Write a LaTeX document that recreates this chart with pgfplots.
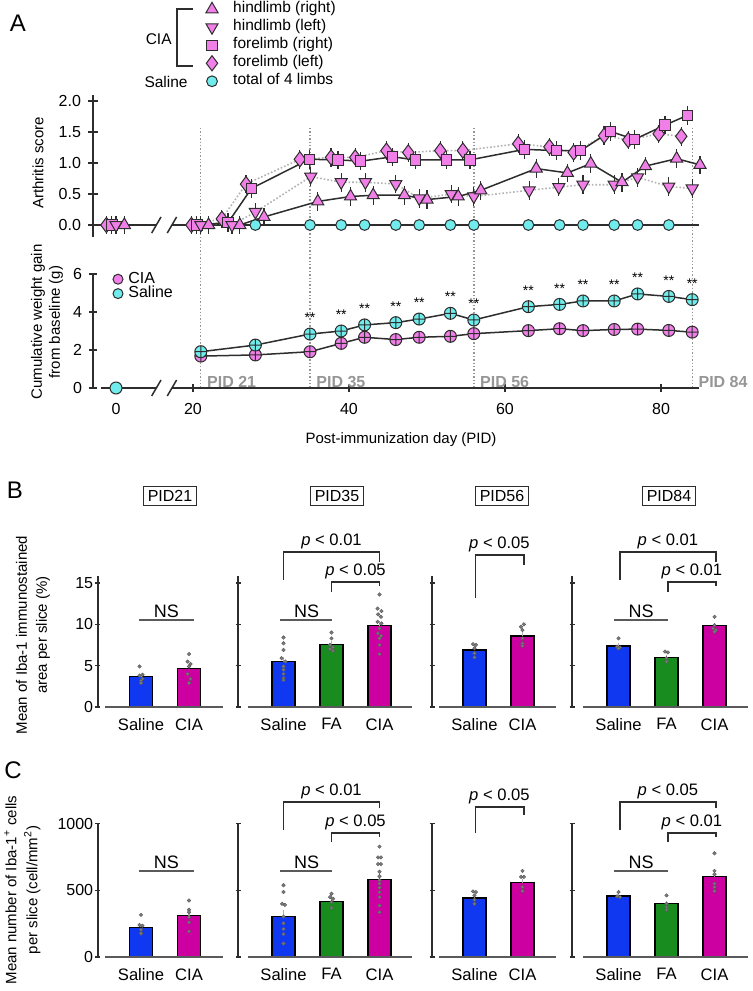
\documentclass[border=0pt]{standalone}
\usepackage{pgfplots}
\pgfplotsset{compat=1.18}
\usepackage{fontspec}
\setmainfont{Liberation Sans}
\definecolor{pinkm}{RGB}{240,128,232}
\definecolor{cyanm}{RGB}{112,236,236}
\definecolor{salblue}{RGB}{16,56,240}
\definecolor{fagreen}{RGB}{24,140,30}
\definecolor{ciamag}{RGB}{204,0,160}
\definecolor{axc}{RGB}{45,45,45}
\definecolor{pidgray}{RGB}{150,150,150}
\definecolor{dotc}{RGB}{125,125,125}
\definecolor{xaxc}{RGB}{90,90,90}
\newcommand{\fs}[1]{\fontsize{#1}{#1}\selectfont}
\pgfplotsset{
  every axis/.append style={
    scale only axis, clip=false,
    /pgf/number format/assume math mode=true,
    tick label style={font=\fs{8}},
    major tick style={axc, line width=0.75pt},
    tick align=outside,
  },
  errA/.style={error bars/.cd, y dir=both, y fixed=0.15, error mark=none, error bar style={axc, line width=0.6pt}},
  barpanel/.style={
    axis y line=left, axis x line=bottom,
    axis line style={axc, line width=0.75pt, -},
    x axis line style={draw=none},
    xtick style={draw=none},
    major tick length=2.5pt,
    yticklabel style={inner sep=1pt},
    xticklabel style={yshift=-1pt, font=\fs{8.3}},
    scaled y ticks=false,
    ymin=0,
  },
  bpanel/.style={barpanel, ymax=15.8, height=65.35pt, ytick={0,5,10,15}},
  cpanel/.style={barpanel, ymax=1000, height=66.67pt, ytick={0,500,1000}},
  dots/.style={only marks, mark=*, mark size=0.9pt, mark options={fill=dotc, draw=dotc!70!black, line width=0.2pt}},
}
\newcommand{\bbar}[4]{\addplot[ybar, bar width=11.5pt, bar shift=0pt, fill=#1, draw=black, line width=0.6pt,
  error bars/.cd, y dir=plus, y explicit, error mark=none, error bar style={gray!60, line width=0.9pt}]
  coordinates {(#2,#3) +- (0,#4)};}
\newcommand{\brk}[7]{\draw[axc, line width=0.7pt] (axis cs:#1,#2) -- (axis cs:#1,#3) -- (axis cs:#4,#3) -- (axis cs:#4,#5);
  \node[anchor=south, font=\fs{8.3}, inner sep=1.2pt] at (axis cs:#6,#3) {#7};}
\newcommand{\ns}[4]{\draw[xaxc, line width=1pt] (axis cs:#1,#3) -- (axis cs:#2,#3);
  \node[anchor=south, font=\fs{9}, inner sep=1.2pt] at (axis cs:#4,#3) {NS};}
\newcommand{\pl}[1]{\textit{p} < #1}
\begin{document}
\begin{tikzpicture}
\useasboundingbox (0,0) rectangle (376pt,-495.5pt);

% ---------------- Panel A top: arthritis score ----------------
\begin{axis}[
  at={(46.5pt,-118.7pt)}, anchor=south west,
  width=307.4pt, height=71.3pt,
  xmin=7.18, xmax=86, ymin=-0.2, ymax=2.1,
  axis y line=left, axis x line=none,
  axis line style={axc, line width=0.75pt, -},
  ytick={0,0.5,1,1.5,2}, yticklabels={0.0,0.5,1.0,1.5,2.0},
  major tick length=5pt,
  legend style={draw=none, fill=none, inner sep=0pt, outer sep=0pt,
    at={(axis description cs:0.1773,1.663)}, anchor=north west,
    font=\fs{7.75}, row sep=0pt,
    nodes={inner sep=0.6pt, text height=5.6pt, text depth=2.2pt}},
  legend cell align=left,
  legend image code/.code={\path[draw=none, fill=none] (0pt,0pt) -- (15pt,0pt); \draw[#1] plot coordinates {(5pt,0pt)};},
]
% PID dotted lines
\foreach \d in {21,35,56,84}{
  \edef\tmp{\noexpand\draw[pidgray, densely dotted, line width=0.7pt] (axis cs:\d,1.565) -- (axis cs:\d,-2.63);}\tmp
}
% zero line with break
\draw[axc, line width=0.75pt] (axis cs:7.4,0) -- (axis cs:15.3,0);
\draw[axc, line width=0.75pt] (axis cs:17.3,0) -- (axis cs:84.9,0);
\draw[axc, line width=0.75pt] (axis cs:14.7,-0.13) -- (axis cs:15.9,0.13);
\draw[axc, line width=0.75pt] (axis cs:16.7,-0.13) -- (axis cs:17.9,0.13);
% series lines
\addplot[forget plot, gray!60, densely dotted, line width=0.8pt] coordinates {
(19.8,0) (23.7,0.10) (26.8,0.66) (33.7,1.06) (37.7,1.09) (40.8,1.09) (44.8,1.20) (47.6,1.17) (51.7,1.20) (54.6,1.20) (61.7,1.31) (65.7,1.26) (68.8,1.17) (72.7,1.44) (75.8,1.37) (79.7,1.47) (82.6,1.43)};
\addplot[forget plot, gray!60, densely dotted, line width=0.8pt] coordinates {
(21,0) (25,0) (28,0.21) (35.1,0.78) (39,0.69) (42.1,0.69) (46,0.66) (49,0.43) (53.1,0.50) (56,0.46) (63.1,0.56) (66.9,0.61) (70,0.65) (74,0.65) (77,0.77) (81,0.62) (84,0.59)};
\addplot[forget plot, axc, line width=0.75pt] coordinates {
(20.5,0) (24.5,0.04) (27.5,0.59) (34.9,1.06) (38.6,1.05) (41.5,1.03) (45.6,1.10) (48.5,1.05) (52.5,1.05) (55.5,1.05) (62.5,1.22) (66.6,1.20) (69.7,1.20) (73.5,1.51) (76.6,1.38) (80.5,1.61) (83.4,1.77)};
\addplot[forget plot, axc, line width=0.75pt] coordinates {
(22,0) (26,0) (29.1,0.13) (36,0.38) (40.2,0.46) (43.1,0.48) (47.1,0.48) (50,0.41) (54,0.46) (56.9,0.56) (64,0.91) (68,0.84) (71,0.99) (75,0.69) (78,0.95) (82,1.07) (85,0.97)};
% marks
\addplot[forget plot, only marks, mark=diamond*, mark size=3.8pt, mark options={fill=pinkm, draw=axc, line width=0.5pt}, errA] coordinates {
(8.9,0) (19.8,0) (23.7,0.10) (26.8,0.66) (33.7,1.06) (37.7,1.09) (40.8,1.09) (44.8,1.20) (47.6,1.17) (51.7,1.20) (54.6,1.20) (61.7,1.31) (65.7,1.26) (68.8,1.17) (72.7,1.44) (75.8,1.37) (79.7,1.47) (82.6,1.43)};
\addplot[forget plot, only marks, mark=square*, mark size=2.6pt, mark options={fill=pinkm, draw=axc, line width=0.5pt}, errA] coordinates {
(9.6,0) (20.5,0) (24.5,0.04) (27.5,0.59) (34.9,1.06) (38.6,1.05) (41.5,1.03) (45.6,1.10) (48.5,1.05) (52.5,1.05) (55.5,1.05) (62.5,1.22) (66.6,1.20) (69.7,1.20) (73.5,1.51) (76.6,1.38) (80.5,1.61) (83.4,1.77)};
\addplot[forget plot, only marks, mark=triangle*, mark size=3.5pt, mark options={rotate=180, fill=pinkm, draw=axc, line width=0.5pt}, errA] coordinates {
(10.13,0) (21,0) (25,0) (28,0.21) (35.1,0.78) (39,0.69) (42.1,0.69) (46,0.66) (49,0.43) (53.1,0.50) (56,0.46) (63.1,0.56) (66.9,0.61) (70,0.65) (74,0.65) (77,0.77) (81,0.62) (84,0.59)};
\addplot[forget plot, only marks, mark=triangle*, mark size=3.5pt, mark options={fill=pinkm, draw=axc, line width=0.5pt}, errA] coordinates {
(11.2,0) (22,0) (26,0) (29.1,0.13) (36,0.38) (40.2,0.46) (43.1,0.48) (47.1,0.48) (50,0.41) (54,0.46) (56.9,0.56) (64,0.91) (68,0.84) (71,0.99) (75,0.69) (78,0.95) (82,1.07) (85,0.97)};
\addplot[forget plot, only marks, mark=*, mark size=2.7pt, mark options={fill=cyanm, draw=axc, line width=0.5pt}] coordinates {
(28,0) (35,0) (39,0) (42,0) (46,0) (49,0) (53,0) (56,0) (63,0) (67,0) (70,0) (74,0) (77,0) (81,0)};
% legend
\addlegendimage{only marks, mark=triangle*, mark size=3.5pt, mark options={fill=pinkm, draw=axc, line width=0.5pt}}
\addlegendentry{hindlimb (right)}
\addlegendimage{only marks, mark=triangle*, mark size=3.5pt, mark options={rotate=180, fill=pinkm, draw=axc, line width=0.5pt}}
\addlegendentry{hindlimb (left)}
\addlegendimage{only marks, mark=square*, mark size=2.6pt, mark options={fill=pinkm, draw=axc, line width=0.5pt}}
\addlegendentry{forelimb (right)}
\addlegendimage{only marks, mark=diamond*, mark size=3.8pt, mark options={fill=pinkm, draw=axc, line width=0.5pt}}
\addlegendentry{forelimb (left)}
\addlegendimage{only marks, mark=*, mark size=2.7pt, mark options={fill=cyanm, draw=axc, line width=0.5pt}}
\addlegendentry{total of 4 limbs}
\end{axis}

% ---------------- Panel A bottom: weight gain ----------------
\begin{axis}[
  at={(46.5pt,-194pt)}, anchor=south west,
  width=307.4pt, height=57pt,
  xmin=7.18, xmax=86, ymin=0, ymax=6,
  axis y line=left, axis x line=bottom,
  axis line style={axc, line width=0.75pt, -},
  x axis line style={draw=none},
  xtick={10.13,20,40,60,80}, xticklabels={0,20,40,60,80},
  ytick={0,2,4,6},
  major tick length=4pt,
  xticklabel style={yshift=-2pt},
  legend style={draw=none, fill=none, inner sep=0pt, outer sep=0pt,
    at={(axis description cs:0.0244,1.0175)}, anchor=north west,
    font=\fs{8}, row sep=0pt,
    nodes={inner sep=0.2pt, text height=5.3pt, text depth=1.5pt}},
  legend cell align=left,
  legend image code/.code={\path[draw=none, fill=none] (0pt,0pt) -- (10pt,0pt); \draw[#1] plot coordinates {(5pt,0pt)};},
]
\draw[axc, line width=0.75pt] (axis cs:8.2,0) -- (axis cs:15.3,0);
\draw[axc, line width=0.75pt] (axis cs:17.3,0) -- (axis cs:84.9,0);
\draw[axc, line width=0.75pt] (axis cs:14.7,-0.42) -- (axis cs:15.9,0.42);
\draw[axc, line width=0.75pt] (axis cs:16.7,-0.42) -- (axis cs:17.9,0.42);
\foreach \d/\t in {21/PID 21,35/PID 35,56/PID 56,84/PID 84}{
  \edef\tmp{\noexpand\node[anchor=west, text=pidgray, font=\noexpand\bfseries\noexpand\fs{8}, inner sep=0pt, xshift=3pt] at (axis cs:\d,0.32) {\t};}\tmp
}
\addplot[forget plot, axc, line width=0.75pt, mark=oplus*, mark size=3pt, mark options={fill=pinkm, draw=axc, line width=0.5pt},
  error bars/.cd, y dir=both, y fixed=0.25, error mark=none, error bar style={axc, line width=0.5pt}] coordinates {
(21,1.68) (28,1.74) (35,1.91) (39,2.35) (42,2.67) (46,2.55) (49,2.67) (53,2.72) (56,2.86) (63,3.02) (67,3.12) (70,3.02) (74,3.08) (77,3.10) (81,3.03) (84,2.94)};
\addplot[forget plot, axc, line width=0.75pt, mark=oplus*, mark size=3pt, mark options={fill=cyanm, draw=axc, line width=0.5pt},
  error bars/.cd, y dir=both, y fixed=0.25, error mark=none, error bar style={axc, line width=0.5pt}] coordinates {
(21,1.91) (28,2.26) (35,2.84) (39,3.00) (42,3.32) (46,3.44) (49,3.63) (53,3.93) (56,3.58) (63,4.28) (67,4.40) (70,4.58) (74,4.58) (77,4.95) (81,4.82) (84,4.65)};
\addplot[forget plot, only marks, mark=*, mark size=3pt, mark options={fill=cyanm, draw=axc, line width=0.5pt}] coordinates {(10.13,0)};
\foreach \d/\v in {35/2.84,39/3.00,42/3.32,46/3.44,49/3.63,53/3.93,56/3.58,63/4.28,67/4.40,70/4.58,74/4.58,77/4.95,81/4.82,84/4.65}{
  \edef\tmp{\noexpand\node[font=\noexpand\fs{7}, inner sep=0pt] at (axis cs:\d,\v+0.85) {**};}\tmp
}
\addlegendimage{only marks, mark=*, mark size=2.5pt, mark options={fill=pinkm, draw=axc, line width=0.5pt}}
\addlegendentry{CIA}
\addlegendimage{only marks, mark=*, mark size=2.5pt, mark options={fill=cyanm, draw=axc, line width=0.5pt}}
\addlegendentry{Saline}
\end{axis}

% ---------------- Panel B ----------------
\begin{axis}[bpanel, at={(49pt,-353.5pt)}, anchor=south west, width=62.55pt,
  xmin=-0.896, xmax=1.71, xtick={0,1}, xticklabels={Saline,CIA}, yticklabels={0,5,10,15}]
\bbar{salblue}{0}{3.65}{0.25}
\bbar{ciamag}{1}{4.66}{0.5}
\addplot[dots] coordinates {(-0.03,4.9)(0.03,3.9)(-0.03,3.8)(0.03,3.4)(0,3.2)(0,2.9)};
\addplot[dots] coordinates {(1,6.4)(0.97,5.5)(1.03,5.2)(1,4.9)(0.97,4.0)(1.03,3.4)(1,2.9)};
\draw[xaxc, line width=1pt] (axis cs:-0.75,0) -- (axis cs:1.71,0);
\ns{-0.04}{1.1}{10.52}{0.53}
\end{axis}

\begin{axis}[bpanel, at={(119pt,-353.5pt)}, anchor=south west, width=87.07pt,
  xmin=-0.948, xmax=2.68, xtick={0,1,2}, xticklabels={Saline,FA,CIA}, yticklabels={}]
\bbar{salblue}{0}{5.47}{0.55}
\bbar{fagreen}{1}{7.58}{0.35}
\bbar{ciamag}{2}{9.81}{0.6}
\addplot[dots] coordinates {(0,8.4)(0,7.7)(0,6.9)(-0.04,5.9)(0.04,5.5)(0,4.9)(0,4.5)(0,4.0)(0,3.5)(0,3.25)};
\addplot[dots] coordinates {(1,9.0)(1,8.3)(0.97,7.5)(1.03,7.2)(0.97,7.0)(1.03,6.8)};
\addplot[dots] coordinates {(2,13.6)(1.96,11.9)(2.04,11.6)(1.97,11.2)(2.03,10.9)(1.96,10.3)(2.04,10.1)(2,9.5)(1.97,8.9)(2.03,8.6)(2,8.3)(2,7.5)(2,6.4)};
\draw[xaxc, line width=1pt] (axis cs:-0.74,0) -- (axis cs:2.67,0);
\brk{0}{15.36}{18.74}{2}{17.53}{1}{\pl{0.01}}
\brk{1}{13.9}{15.11}{2}{14.6}{1.5}{\pl{0.05}}
\ns{-0.07}{1.02}{10.52}{0.48}
\end{axis}

\begin{axis}[bpanel, at={(216pt,-353.5pt)}, anchor=south west, width=61.8pt,
  xmin=-0.885, xmax=1.69, xtick={0,1}, xticklabels={Saline,CIA}, yticklabels={}]
\bbar{salblue}{0}{6.89}{0.25}
\bbar{ciamag}{1}{8.59}{0.45}
\addplot[dots] coordinates {(-0.03,7.6)(0.03,7.5)(0,7.1)(0,6.5)(0,6.0)};
\addplot[dots] coordinates {(1.03,10.0)(0.97,9.7)(1,9.3)(1,8.3)(1,7.7)(1,7.4)};
\draw[xaxc, line width=1pt] (axis cs:-0.74,0) -- (axis cs:1.69,0);
\brk{0.02}{13.18}{18.38}{1.03}{17.17}{0.52}{\pl{0.05}}
\end{axis}

\begin{axis}[bpanel, at={(286pt,-353.5pt)}, anchor=south west, width=88.06pt,
  xmin=-0.969, xmax=2.7, xtick={0,1,2}, xticklabels={Saline,FA,CIA}, yticklabels={}]
\bbar{salblue}{0}{7.38}{0.3}
\bbar{fagreen}{1}{6.0}{0.25}
\bbar{ciamag}{2}{9.81}{0.35}
\addplot[dots] coordinates {(0,8.3)(-0.03,7.3)(0.03,7.2)(0,7.1)};
\addplot[dots] coordinates {(0.97,6.7)(1.03,6.6)(1,5.9)(1,5.5)};
\addplot[dots] coordinates {(2,10.9)(2,9.9)(1.97,9.5)(2.03,9.3)(2,9.1)};
\draw[xaxc, line width=1pt] (axis cs:-0.74,0) -- (axis cs:2.7,0);
\brk{0.03}{15.36}{18.74}{2.03}{17.53}{1.03}{\pl{0.01}}
\brk{1.03}{13.9}{15.11}{2.03}{14.6}{1.53}{\pl{0.01}}
\ns{-0.09}{1.03}{10.52}{0.47}
\end{axis}

% ---------------- Panel C ----------------
\begin{axis}[cpanel, at={(49pt,-478.5pt)}, anchor=south west, width=62.55pt,
  xmin=-0.896, xmax=1.71, xtick={0,1}, xticklabels={Saline,CIA}, yticklabels={0,500,1000}]
\bbar{salblue}{0}{222}{15}
\bbar{ciamag}{1}{311}{30}
\addplot[dots] coordinates {(0,316)(-0.03,240)(0.03,235)(0,205)(0,180)(0,175)};
\addplot[dots] coordinates {(1,424)(1,354)(1,336)(1,298)(1,260)(1,192)};
\draw[xaxc, line width=1pt] (axis cs:-0.75,0) -- (axis cs:1.71,0);
\ns{-0.04}{1.1}{645}{0.53}
\end{axis}

\begin{axis}[cpanel, at={(119pt,-478.5pt)}, anchor=south west, width=87.07pt,
  xmin=-0.948, xmax=2.68, xtick={0,1,2}, xticklabels={Saline,FA,CIA}, yticklabels={}]
\bbar{salblue}{0}{306}{45}
\bbar{fagreen}{1}{417}{15}
\bbar{ciamag}{2}{583}{40}
\addplot[dots] coordinates {(0,538)(0,487)(-0.03,399)(0.03,391)(0,303)(0,253)(0,210)(0,172)(0,101)};
\addplot[dots] coordinates {(1,475)(0.97,449)(1.03,437)(1,412)(1,369)};
\addplot[dots] coordinates {(2,828)(1.97,747)(2.03,747)(1.97,697)(2.03,697)(2,639)(2,606)(2,576)(2,550)(2,520)(2,487)(2,449)(2,386)(2,336)};
\draw[xaxc, line width=1pt] (axis cs:-0.74,0) -- (axis cs:2.67,0);
\brk{0}{952}{1162}{2}{1117}{1}{\pl{0.01}}
\brk{1}{862}{930}{2}{900}{1.5}{\pl{0.05}}
\ns{-0.07}{1.02}{645}{0.48}
\end{axis}

\begin{axis}[cpanel, at={(216pt,-478.5pt)}, anchor=south west, width=61.8pt,
  xmin=-0.885, xmax=1.69, xtick={0,1}, xticklabels={Saline,CIA}, yticklabels={}]
\bbar{salblue}{0}{442}{15}
\bbar{ciamag}{1}{558}{25}
\addplot[dots] coordinates {(-0.03,492)(0.03,487)(0,462)(0,429)(0,399)};
\addplot[dots] coordinates {(1,646)(0.97,601)(1.03,601)(1,525)(1,495)};
\draw[xaxc, line width=1pt] (axis cs:-0.74,0) -- (axis cs:1.69,0);
\brk{0.02}{930}{1125}{1.03}{1065}{0.52}{\pl{0.05}}
\end{axis}

\begin{axis}[cpanel, at={(286pt,-478.5pt)}, anchor=south west, width=88.06pt,
  xmin=-0.969, xmax=2.7, xtick={0,1,2}, xticklabels={Saline,FA,CIA}, yticklabels={}]
\bbar{salblue}{0}{457}{15}
\bbar{fagreen}{1}{399}{20}
\bbar{ciamag}{2}{601}{45}
\addplot[dots] coordinates {(0,487)(-0.03,455)(0.03,449)};
\addplot[dots] coordinates {(1,462)(1,399)(1,374)(1,354)};
\addplot[dots] coordinates {(2,778)(2,646)(2,621)(2,550)(2,525)(2,495)};
\draw[xaxc, line width=1pt] (axis cs:-0.74,0) -- (axis cs:2.7,0);
\brk{0.03}{952}{1162}{2.03}{1117}{1.03}{\pl{0.05}}
\brk{1.03}{862}{930}{2.03}{900}{1.53}{\pl{0.01}}
\ns{-0.09}{1.03}{645}{0.47}
\end{axis}

% ---------------- Texts ----------------
\node[font=\fs{12}] at (9pt,-11.5pt) {A};
\node[font=\fs{12}] at (7.5pt,-245pt) {B};
\node[font=\fs{12}] at (6.5pt,-385pt) {C};
\draw[axc, line width=0.7pt] (96.5pt,-4.5pt) -- (88.5pt,-4.5pt) -- (88.5pt,-33pt) -- (96.5pt,-33pt);
\node[anchor=east, font=\fs{7.75}, inner sep=0pt] at (86pt,-19.5pt) {CIA};
\node[anchor=east, font=\fs{7.75}, inner sep=0pt] at (94pt,-41pt) {Saline};
\node[rotate=90, font=\fs{7.5}] at (19pt,-81.5pt) {Arthritis score};
\node[rotate=90, font=\fontsize{7.5}{9}\selectfont, align=center] at (23.5pt,-161pt) {Cumulative weight gain\\from baseline (g)};
\node[font=\fs{7.5}] at (200.5pt,-220pt) {Post-immunization day (PID)};
\node[rotate=90, font=\fontsize{7.5}{10}\selectfont, align=center] at (16.5pt,-317.5pt) {Mean of Iba-1 immunostained\\area per slice (\%)};
\node[rotate=90, font=\fontsize{7.5}{10.5}\selectfont, align=center] at (11.25pt,-445pt) {Mean number of Iba-1\textsuperscript{+} cells\\per slice (cell/mm\textsuperscript{2})};
\foreach \x/\t in {85/PID21,168.5/PID35,251/PID56,334.5/PID84}{
  \node[draw=axc, line width=0.6pt, font=\fs{8}, inner sep=2pt] at (\x pt,-248pt) {\t};
}
\end{tikzpicture}
\end{document}
